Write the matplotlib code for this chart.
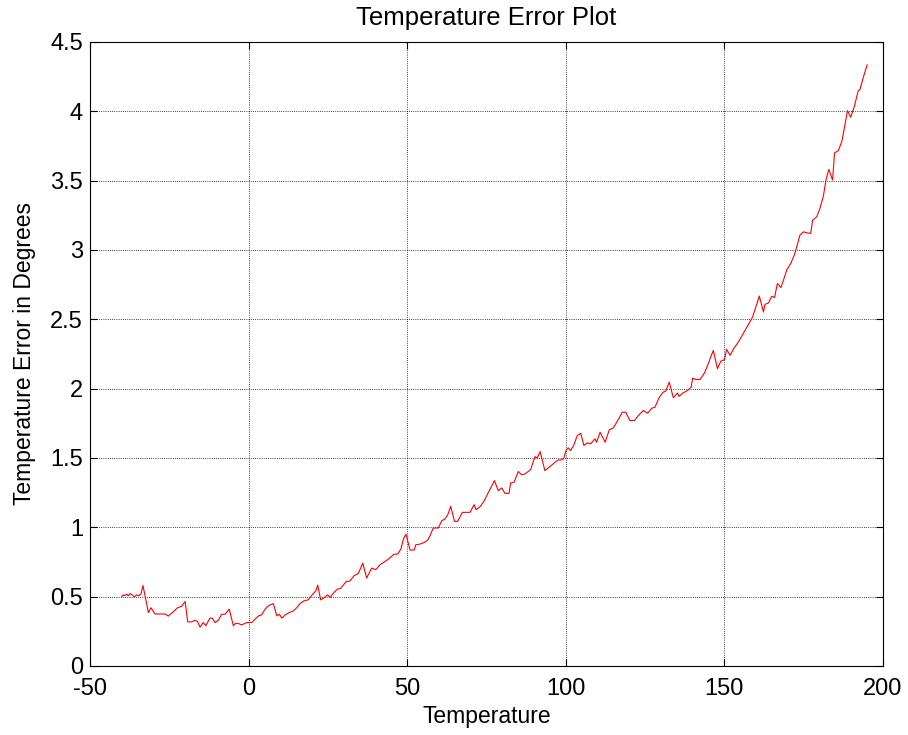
import matplotlib
matplotlib.use("Agg")
import matplotlib.pyplot as plt

# temperature (deg) and error (deg)
temp = [-40.0, -39.5, -39.0, -38.4, -37.9, -37.4, -36.7, -36.0, -35.3, -34.6,
        -33.9, -33.3, -32.4, -31.6, -30.8, -29.5, -26.4, -25.3, -23.7, -22.4,
        -21.1, -20.0, -19.2, -17.9, -16.9, -16.1, -15.3, -14.3, -13.5, -12.2,
        -11.4, -10.6, -9.5, -8.5, -7.4, -6.1, -4.8, -4.1, -3.2, -2.2,
        -0.6, 1.0, 2.0, 3.1, 4.1, 5.2, 6.5, 7.8, 8.9, 9.7,
        10.5, 11.5, 12.8, 14.1, 15.2, 16.2, 17.5, 18.8, 20.2, 21.2,
        21.8, 22.7, 23.6, 24.9, 25.7, 26.9, 28.0, 29.0, 30.7, 32.0,
        33.2, 34.6, 36.0, 37.2, 38.8, 40.1, 41.4, 42.5, 44.1, 45.9,
        47.0, 48.0, 48.8, 49.6, 50.9, 52.2, 52.7, 54.0, 55.4, 56.5,
        57.2, 58.2, 59.8, 60.9, 61.9, 62.8, 63.7, 64.9, 65.9, 67.4,
        69.8, 71.1, 71.7, 73.0, 74.3, 75.6, 77.5, 78.7, 79.8, 80.8,
        82.1, 82.6, 83.7, 85.0, 86.1, 87.1, 88.9, 90.3, 91.0, 91.9,
        93.4, 95.0, 96.6, 97.6, 98.7, 99.4, 100.1, 100.8, 101.5, 102.6,
        103.6, 104.7, 105.7, 106.8, 107.8, 109.2, 109.7, 110.8, 112.4, 113.7,
        115.0, 116.9, 117.8, 118.9, 120.2, 121.6, 122.9, 124.4, 125.8, 127.1,
        128.1, 129.5, 130.7, 131.5, 132.6, 133.9, 135.2, 135.7, 137.0, 138.4,
        139.5, 140.0, 141.0, 142.3, 143.7, 144.7, 146.5, 147.8, 148.9, 150.0,
        150.7, 151.8, 153.1, 154.4, 156.5, 158.9, 161.0, 162.3, 162.8, 163.9,
        164.9, 165.8, 166.7, 167.8, 168.6, 169.7, 170.9, 172.0, 172.8, 173.8,
        174.9, 175.9, 177.2, 177.8, 179.1, 180.1, 181.2, 182.0, 182.9, 184.1,
        184.7, 185.9, 187.0, 187.7, 188.8, 189.8, 190.9, 192.2, 192.7, 193.8,
        195.0]
error = [0.500, 0.513, 0.508, 0.518, 0.506, 0.522, 0.513, 0.498, 0.513, 0.506,
         0.522, 0.580, 0.480, 0.385, 0.420, 0.375, 0.375, 0.360, 0.392, 0.420,
         0.430, 0.465, 0.318, 0.318, 0.330, 0.320, 0.280, 0.313, 0.290, 0.345,
         0.345, 0.313, 0.330, 0.373, 0.373, 0.410, 0.290, 0.308, 0.306, 0.296,
         0.313, 0.313, 0.337, 0.361, 0.368, 0.410, 0.438, 0.450, 0.361, 0.373,
         0.345, 0.368, 0.385, 0.397, 0.421, 0.450, 0.470, 0.477, 0.518, 0.542,
         0.583, 0.477, 0.489, 0.513, 0.494, 0.530, 0.554, 0.559, 0.607, 0.614,
         0.650, 0.667, 0.742, 0.634, 0.706, 0.694, 0.730, 0.746, 0.771, 0.807,
         0.807, 0.843, 0.915, 0.951, 0.836, 0.836, 0.874, 0.879, 0.891, 0.908,
         0.939, 0.995, 0.995, 1.048, 1.060, 1.091, 1.151, 1.043, 1.043, 1.108,
         1.108, 1.163, 1.127, 1.149, 1.192, 1.252, 1.337, 1.264, 1.284, 1.245,
         1.245, 1.320, 1.325, 1.402, 1.378, 1.385, 1.416, 1.510, 1.500, 1.546,
         1.409, 1.438, 1.469, 1.486, 1.486, 1.500, 1.558, 1.573, 1.553, 1.597,
         1.662, 1.678, 1.590, 1.609, 1.602, 1.638, 1.613, 1.686, 1.613, 1.703,
         1.717, 1.792, 1.830, 1.830, 1.770, 1.770, 1.806, 1.842, 1.823, 1.859,
         1.866, 1.939, 1.975, 1.982, 2.047, 1.934, 1.968, 1.944, 1.970, 1.987,
         2.011, 2.076, 2.066, 2.066, 2.112, 2.168, 2.276, 2.144, 2.199, 2.209,
         2.283, 2.240, 2.295, 2.336, 2.420, 2.517, 2.668, 2.553, 2.608, 2.618,
         2.666, 2.657, 2.758, 2.729, 2.782, 2.859, 2.902, 2.962, 3.023, 3.107,
         3.131, 3.124, 3.119, 3.215, 3.239, 3.300, 3.389, 3.504, 3.581, 3.504,
         3.700, 3.716, 3.781, 3.866, 4.005, 3.957, 4.030, 4.150, 4.155, 4.246,
         4.335]

xticks = [-50, 0, 50, 100, 150, 200]
yticks = [0, 0.5, 1, 1.5, 2, 2.5, 3, 3.5, 4, 4.5]
ytick_labels = ["0", "0.5", "1", "1.5", "2", "2.5", "3", "3.5", "4", "4.5"]

plt.rcParams["font.family"] = ["Liberation Sans", "DejaVu Sans"]
plt.rcParams["axes.unicode_minus"] = False

fig = plt.figure(figsize=(9.08, 7.35), dpi=100)
ax = fig.add_axes([0.0991, 0.0939, 0.8734, 0.849])

ax.plot(temp, error, color="red", linewidth=0.8)

ax.set_xlim(-50, 200)
ax.set_ylim(0, 4.5)
ax.set_xticks(xticks)
ax.set_yticks(yticks)
ax.set_yticklabels(ytick_labels)
ax.tick_params(direction="in", length=5, width=0.8, top=True, right=True,
               labelsize=17)
ax.tick_params(axis="x", pad=8.5)
ax.tick_params(axis="y", pad=5)
ax.grid(True, color="black", linestyle=(0, (1, 1.6)), linewidth=0.6)
for s in ax.spines.values():
    s.set_linewidth(0.8)

ax.set_title("Temperature Error Plot", fontsize=18.5, pad=12)
ax.set_xlabel("Temperature", fontsize=16.5, labelpad=4)
ax.set_ylabel("Temperature Error in Degrees", fontsize=16.5, labelpad=10)

fig.savefig("out.png", dpi=100)
